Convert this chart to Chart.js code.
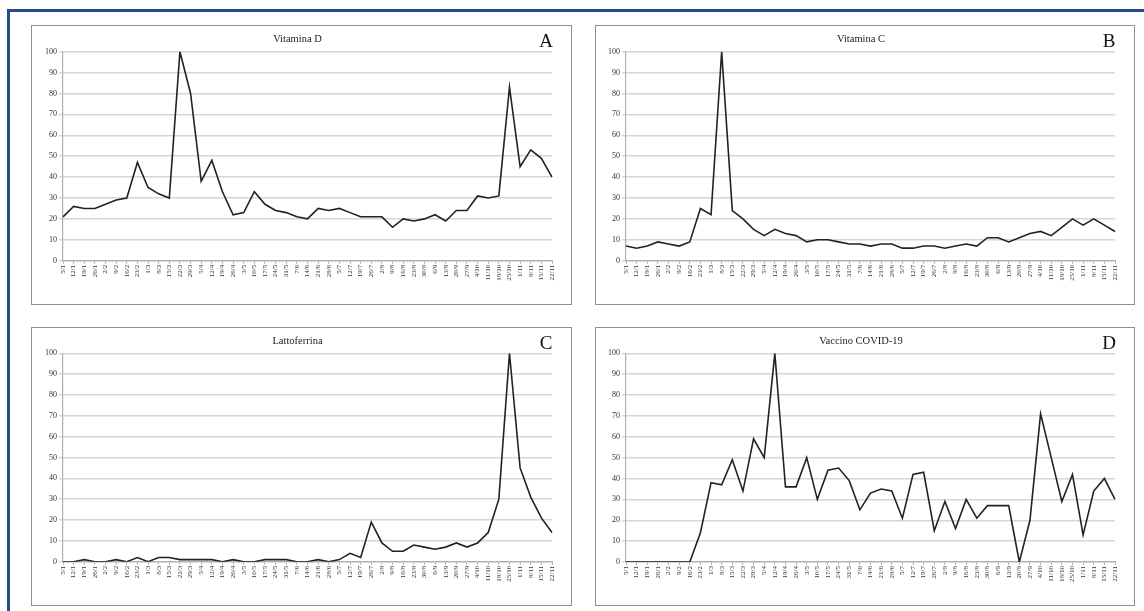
<!DOCTYPE html>
<html>
<head>
<meta charset="utf-8">
<script src="https://cdn.jsdelivr.net/npm/chart.js@4.4.1/dist/chart.umd.min.js"></script>
<style>
  html, body { margin: 0; padding: 0; background: #fff; }
  body { width: 1144px; height: 611px; position: relative; overflow: hidden; }
  .blueTop { position: absolute; left: 7px; top: 9px; width: 1137px; height: 2.5px; background: #254c87; }
  .blueLeft { position: absolute; left: 7px; top: 9px; width: 2.5px; height: 602px; background: #254c87; }
  .panel { position: absolute; box-sizing: border-box; border: 1.5px solid #8f8f8f; pointer-events: none; }
  canvas.c { position: absolute; }
  .title { position: absolute; font-family: "Liberation Serif", "Times New Roman", serif; font-size: 10.5px; color: #222; transform: translate(-50%, -50%); white-space: nowrap; }
  .letter { position: absolute; font-family: "Liberation Serif", "Times New Roman", serif; font-size: 19px; color: #111; transform: translate(-50%, -50%); }
</style>
</head>
<body>
<div class="blueTop"></div>
<div class="blueLeft"></div>
<script>
const weeks = ['5/1','12/1','19/1','26/1','2/2','9/2','16/2','23/2','1/3','8/3','15/3','22/3','29/3','5/4','12/4','19/4','26/4','3/5','10/5','17/5','24/5','31/5','7/6','14/6','21/6','28/6','5/7','12/7','19/7','26/7','2/8','9/8','16/8','23/8','30/8','6/9','13/9','20/9','27/9','4/10','11/10','18/10','25/10','1/11','8/11','15/11','22/11'];
const yTicks = [0,10,20,30,40,50,60,70,80,90,100];

const vitaminaD = [21,26,25,25,27,29,30,47,35,32,30,100,80,38,48,33,22,23,33,27,24,23,21,20,25,24,25,23,21,21,21,16,20,19,20,22,19,24,24,31,30,31,83,45,53,49,40];
const vitaminaC = [7,6,7,9,8,7,9,25,22,100,24,20,15,12,15,13,12,9,10,10,9,8,8,7,8,8,6,6,7,7,6,7,8,7,11,11,9,11,13,14,12,16,20,17,20,17,14];
const lattoferrina = [0,0,1,0,0,1,0,2,0,2,2,1,1,1,1,0,1,0,0,1,1,1,0,0,1,0,1,4,2,19,9,5,5,8,7,6,7,9,7,9,14,30,100,45,31,21,14];
const vaccino = [0,0,0,0,0,0,0,14,38,37,49,34,59,50,100,36,36,50,30,44,45,39,25,33,35,34,21,42,43,15,29,16,30,21,27,27,27,0,20,71,50,29,42,13,34,40,30];

const panels = [
  { title: 'Vitamina D', letter: 'A', data: vitaminaD, box: [31, 25, 541, 280], plot: [63, 552, 51.7, 260.7] },
  { title: 'Vitamina C', letter: 'B', data: vitaminaC, box: [595, 25, 540, 280], plot: [626, 1115, 51.7, 260.7] },
  { title: 'Lattoferrina', letter: 'C', data: lattoferrina, box: [31, 327, 541, 279], plot: [63, 552, 353.3, 561.7] },
  { title: 'Vaccino COVID-19', letter: 'D', data: vaccino, box: [595, 327, 540, 279], plot: [626, 1115, 353.3, 562] }
];

const serif = '"Liberation Serif", "Times New Roman", serif';

panels.forEach(p => {
  const [bx, by, bw, bh] = p.box;
  const [px0, px1, py100, py0] = p.plot;
  const cv = document.createElement('canvas');
  cv.className = 'c';
  cv.style.left = bx + 'px';
  cv.style.top = by + 'px';
  cv.style.width = bw + 'px';
  cv.style.height = bh + 'px';
  cv.width = bw; cv.height = bh;
  document.body.appendChild(cv);

  const border = document.createElement('div');
  border.className = 'panel';
  border.style.left = bx + 'px';
  border.style.top = by + 'px';
  border.style.width = bw + 'px';
  border.style.height = bh + 'px';
  document.body.appendChild(border);

  const t = document.createElement('div');
  t.className = 'title';
  t.textContent = p.title;
  t.style.left = (bx + bw / 2 - 4) + 'px';
  t.style.top = (by + 13) + 'px';
  document.body.appendChild(t);

  const l = document.createElement('div');
  l.className = 'letter';
  l.textContent = p.letter;
  l.style.left = (bx + bw - 26) + 'px';
  l.style.top = (by + 16) + 'px';
  document.body.appendChild(l);

  const yW = px0 - bx;
  const xH = (by + bh) - py0;
  new Chart(cv, {
    type: 'line',
    data: {
      labels: weeks,
      datasets: [{
        data: p.data,
        borderColor: '#222',
        borderWidth: 1.6,
        pointRadius: 0,
        tension: 0,
        fill: false
      }]
    },
    options: {
      responsive: false,
      animation: false,
      devicePixelRatio: 1,
      layout: { padding: { left: 0, top: py100 - by, right: (bx + bw) - px1, bottom: 0 } },
      plugins: { legend: { display: false }, tooltip: { enabled: false }, title: { display: false } },
      scales: {
        x: {
          type: 'category',
          offset: false,
          grid: { drawOnChartArea: false, drawTicks: true, tickLength: 3, color: '#b0b0b0', lineWidth: 1 },
          border: { color: '#b0b0b0', width: 1.2 },
          ticks: {
            autoSkip: false, maxRotation: 90, minRotation: 90, padding: 1,
            font: { family: serif, size: 7 }, color: '#333'
          },
          afterFit: s => { s.height = xH; }
        },
        y: {
          min: 0, max: 100,
          afterBuildTicks: s => { s.ticks = yTicks.map(v => ({ value: v })); },
          grid: { color: '#d6d6d6', lineWidth: 1.5, drawTicks: true, tickLength: 4 },
          border: { color: '#b0b0b0', width: 1.2 },
          ticks: { padding: 2, font: { family: serif, size: 8 }, color: '#333' },
          afterFit: s => { s.width = yW; }
        }
      }
    }
  });
});
</script>
</body>
</html>
